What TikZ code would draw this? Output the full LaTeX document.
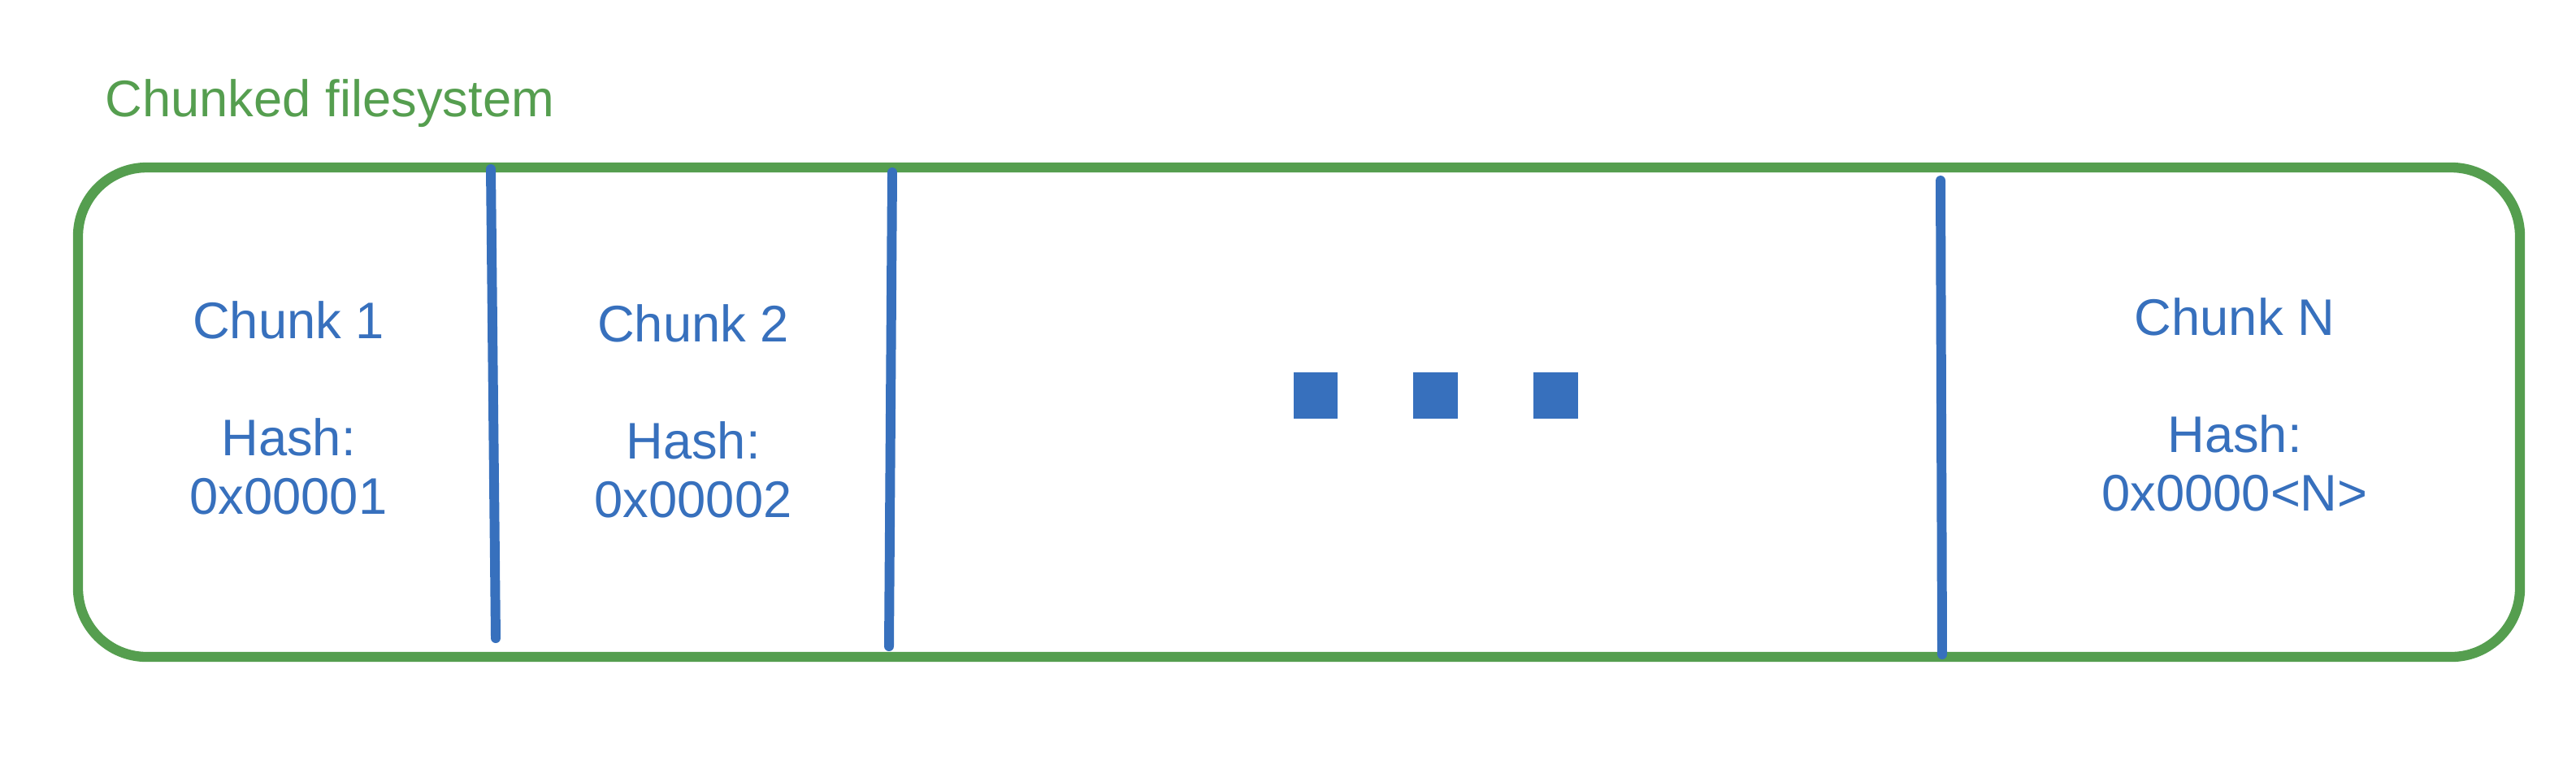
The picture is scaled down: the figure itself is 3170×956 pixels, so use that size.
\documentclass[tikz,border=0pt]{standalone}
\usepackage{fontspec}
\setmainfont{Liberation Sans}
\usepackage{tikz}
\usetikzlibrary{positioning}
\definecolor{FsGreen}{HTML}{559E4F}
\definecolor{ChunkBlue}{HTML}{3770BD}

\begin{document}
\begin{tikzpicture}[
    x=0.01cm, y=-0.01cm,
    font=\fontsize{18}{20.5}\selectfont,
    label/.style={text=ChunkBlue, align=center, inner sep=0pt},
    divider/.style={ChunkBlue, line width=3.4pt, line cap=round},
    dot/.style={fill=ChunkBlue, draw=none}
  ]
    \useasboundingbox (0,0) rectangle (3170,956);

    \node[text=FsGreen, anchor=base west, inner sep=0pt] (title) at (129,143) {Chunked filesystem};
    \draw[FsGreen, line width=3.5pt, rounded corners=24pt] (96,206) rectangle (3101,808);

    \draw[divider] (604,208) -- (610,785);
    \draw[divider] (1098,212) -- (1094,795);
    \draw[divider] (2388,222) -- (2390,805);

    \node[label] (chunk1) at (355,502) {Chunk 1\\[\baselineskip]Hash:\\0x00001};
    \node[label] (chunk2) at (853,506) {Chunk 2\\[\baselineskip]Hash:\\0x00002};
    \node[label] (chunkN) at (2750,498) {Chunk N\\[\baselineskip]Hash:\\0x0000<N>};

    \fill[dot] (1592,458) rectangle (1646,515);
    \fill[dot] (1739,458) rectangle (1794,515);
    \fill[dot] (1887,458) rectangle (1942,515);
  \end{tikzpicture}
\end{document}
